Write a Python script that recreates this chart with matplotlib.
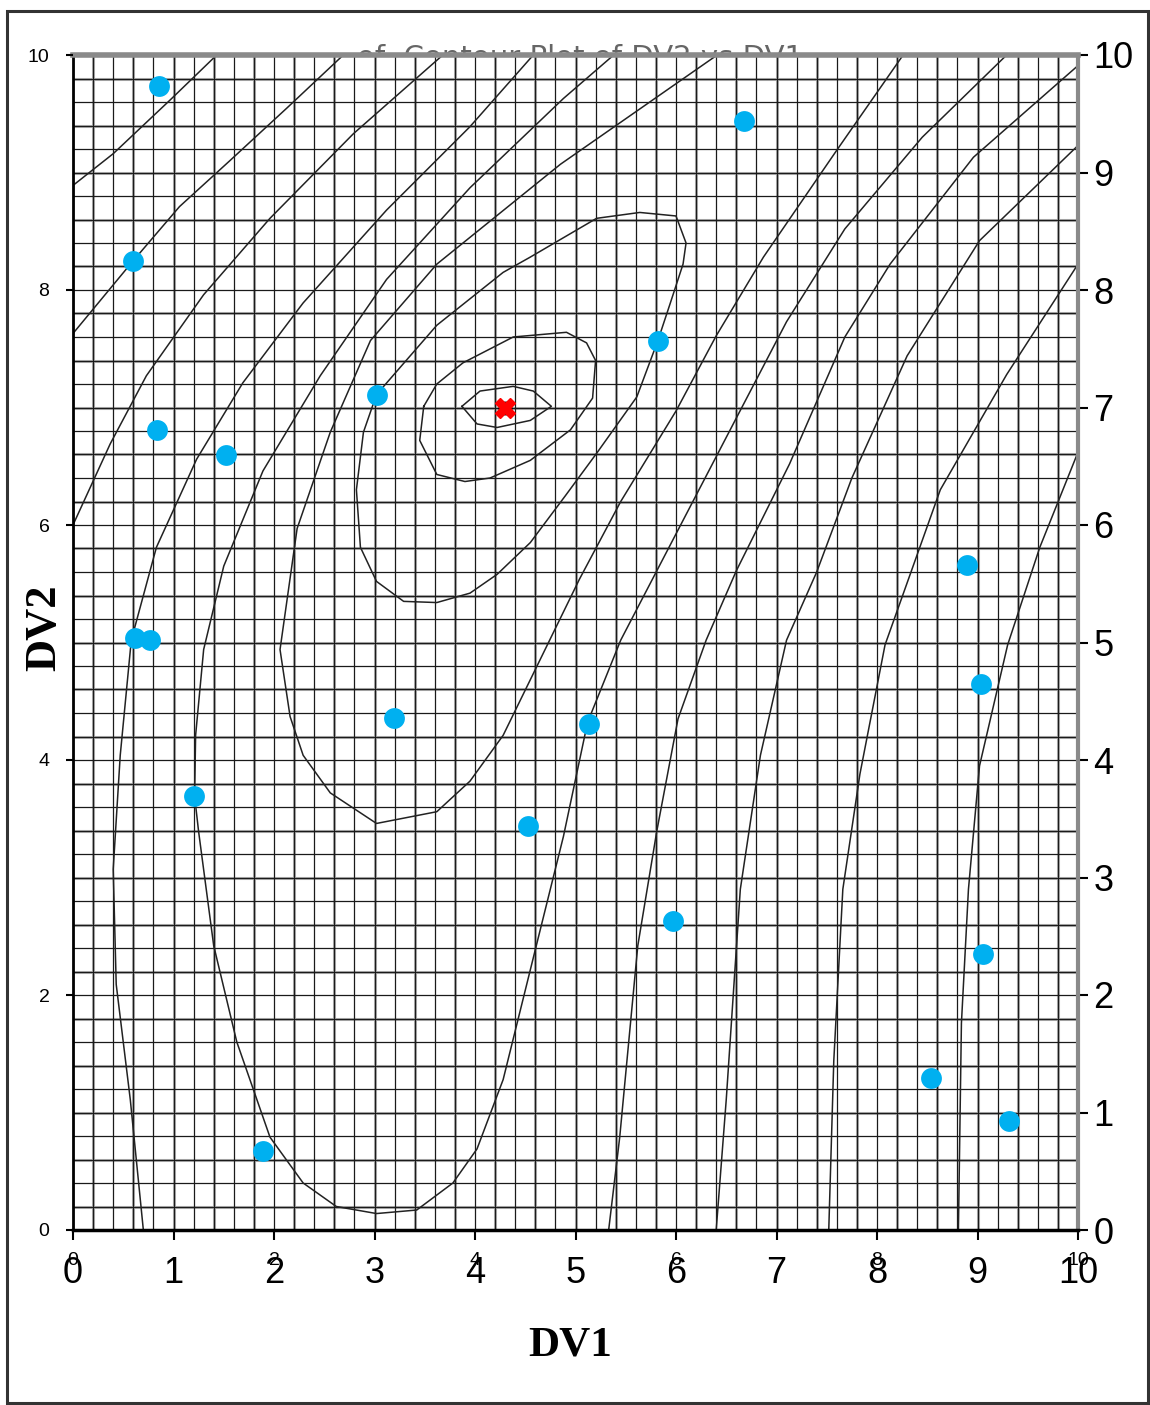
import numpy as np
import matplotlib
matplotlib.use("Agg")
import matplotlib.pyplot as plt
from matplotlib.patches import Rectangle

# sampled design points (DV1, DV2)
pts_dv1 = [0.86, 6.68, 0.60, 5.82, 3.02, 0.84, 1.52, 8.90, 0.62, 0.77,
           9.03, 3.19, 5.13, 1.20, 4.53, 5.97, 9.05, 8.54, 9.31, 1.89]
pts_dv2 = [9.74, 9.44, 8.25, 7.57, 7.11, 6.81, 6.60, 5.66, 5.04, 5.02,
           4.65, 4.36, 4.31, 3.69, 3.44, 2.63, 2.35, 1.29, 0.93, 0.67]

# optimum
opt_dv1 = [4.30]
opt_dv2 = [7.00]

# contour lines, (DV1, DV2)
eye = [(3.87, 7.01), (4.05, 7.14), (4.38, 7.18), (4.58, 7.14), (4.76, 7.01),
       (4.55, 6.89), (4.22, 6.83), (4.02, 6.86), (3.87, 7.01)]
inner = [(3.49, 7.01), (3.62, 7.20), (3.88, 7.38), (4.38, 7.60), (4.91, 7.64),
         (5.11, 7.55), (5.20, 7.40), (5.17, 7.08), (4.95, 6.81), (4.55, 6.55),
         (4.15, 6.40), (3.90, 6.37), (3.62, 6.43), (3.45, 6.72), (3.49, 7.01)]
middle = [(3.02, 7.11), (3.62, 7.70), (4.28, 8.15), (4.55, 8.28), (5.21, 8.61),
          (5.64, 8.66), (6.00, 8.63), (6.10, 8.40), (6.07, 8.22), (5.94, 7.88),
          (5.82, 7.57), (5.61, 7.09), (5.21, 6.61), (4.90, 6.25), (4.55, 5.85),
          (4.22, 5.58), (3.95, 5.42), (3.62, 5.34), (3.29, 5.35), (3.02, 5.52),
          (2.86, 5.81), (2.82, 6.30), (2.89, 6.79), (3.02, 7.11)]
u_small = [(6.41, 10.0), (4.85, 9.07), (3.62, 8.22), (2.96, 7.57), (2.56, 6.79),
           (2.23, 5.97), (2.06, 4.94), (2.16, 4.37), (2.29, 4.04), (2.56, 3.72),
           (3.02, 3.46), (3.62, 3.56), (3.95, 3.82), (4.28, 4.21), (4.60, 4.77),
           (5.04, 5.54), (5.45, 6.20), (6.00, 6.97), (6.40, 7.61), (6.87, 8.28),
           (7.60, 9.19), (8.26, 10.0)]
u_big = [(5.38, 10.0), (4.88, 9.63), (3.95, 8.87), (3.12, 8.09), (2.46, 7.27),
         (1.89, 6.46), (1.50, 5.65), (1.30, 4.94), (1.22, 4.21), (1.21, 3.69),
         (1.25, 3.39), (1.40, 2.42), (1.63, 1.60), (1.96, 0.79), (2.29, 0.40),
         (2.62, 0.20), (3.02, 0.14), (3.42, 0.17), (3.78, 0.40), (4.02, 0.69),
         (4.28, 1.28), (4.61, 2.42), (4.88, 3.35), (5.12, 4.32), (5.45, 5.02),
         (5.90, 5.76), (6.60, 6.91), (7.10, 7.73), (7.68, 8.52), (8.45, 9.30),
         (9.29, 10.0)]
left_6 = [(0.70, 0.0), (0.57, 1.11), (0.43, 2.09), (0.40, 3.07), (0.47, 4.04),
          (0.58, 5.02), (0.83, 5.81), (1.23, 6.56), (1.69, 7.21), (2.29, 7.89),
          (3.12, 8.68), (3.95, 9.39), (4.58, 10.0)]
left_7 = [(0.0, 6.0), (0.37, 6.69), (0.73, 7.27), (1.30, 7.96), (1.96, 8.61),
          (2.79, 9.33), (3.68, 10.0)]
left_8 = [(0.0, 7.63), (0.60, 8.25), (1.06, 8.71), (1.56, 9.10), (2.13, 9.55),
          (2.69, 10.0)]
left_9 = [(0.0, 8.89), (0.40, 9.16), (0.97, 9.62), (1.43, 10.0)]
right_6 = [(5.33, 0.0), (5.44, 0.79), (5.62, 2.42), (5.81, 3.40), (6.02, 4.35),
           (6.30, 5.02), (6.60, 5.61), (7.13, 6.52), (7.68, 7.60), (8.13, 8.22),
           (8.96, 9.13), (10.0, 9.91)]
right_7 = [(6.40, 0.0), (6.50, 1.11), (6.64, 2.90), (6.84, 4.04), (7.10, 5.02),
           (7.40, 5.60), (7.75, 6.40), (8.30, 7.44), (9.02, 8.42), (10.0, 9.23)]
right_8 = [(7.52, 0.0), (7.57, 1.44), (7.66, 2.90), (7.83, 3.88), (8.08, 4.98),
           (8.63, 6.30), (9.29, 7.28), (10.0, 8.22)]
right_9 = [(8.81, 0.0), (8.84, 1.76), (8.91, 2.90), (9.02, 3.95), (9.30, 4.98),
           (9.62, 5.81), (10.0, 6.62)]

contours = [eye, inner, middle, u_small, u_big, left_6, left_7, left_8, left_9,
            right_6, right_7, right_8, right_9]

big_ticks = list(range(0, 11))
small_ticks = [0, 2, 4, 6, 8, 10]

narrow = ["Liberation Sans Narrow", "Liberation Sans", "DejaVu Sans"]
serif = ["Liberation Serif", "DejaVu Serif"]

fig = plt.figure(figsize=(11.5, 14.05), dpi=100)
rect = [73 / 1150, 175 / 1405, 1005 / 1150, 1175 / 1405]
ax = fig.add_axes(rect)
ax.set_xlim(0, 10)
ax.set_ylim(0, 10)

# graph-paper grid, every 0.2
for k, v in enumerate(np.arange(0, 10.001, 0.2)):
    if k % 2:
        ax.axvline(v, color="#b4b4b4", lw=2.2, zorder=0.5)
        ax.axhline(v, color="#b4b4b4", lw=2.2, zorder=0.5)
    ax.axvline(v, color="#1a1a1a", lw=0.9, zorder=0.6)
    ax.axhline(v, color="#1a1a1a", lw=0.9, zorder=0.6)

for c in contours:
    xs, ys = zip(*c)
    ax.plot(xs, ys, color="#222222", lw=1.1, zorder=2)

ax.plot(pts_dv1, pts_dv2, "o", color="#00b0f0", ms=15, mec="none", zorder=5)
ax.plot(opt_dv1, opt_dv2, "o", color="black", ms=9, zorder=6)
ax.plot(opt_dv1, opt_dv2, "X", color="#ff0000", ms=14, mec="#ff0000", zorder=7)

# big ticks: bottom and right
ax.set_xticks(big_ticks)
ax.set_yticks(big_ticks)
ax.yaxis.tick_right()
ax.tick_params(axis="x", direction="out", length=7, width=1.5, pad=12,
               labelsize=26, colors="black")
ax.tick_params(axis="y", direction="out", length=7, width=1.5, pad=4,
               labelsize=26, colors="black")
for lab in ax.get_xticklabels() + ax.get_yticklabels():
    lab.set_family(narrow)

ax.spines["left"].set_linewidth(2)
ax.spines["bottom"].set_linewidth(2.5)
ax.spines["top"].set_color("#8a8a8a")
ax.spines["top"].set_linewidth(4)
ax.spines["right"].set_color("#8a8a8a")
ax.spines["right"].set_linewidth(3)

# small ticks: left and bottom, drawn over the big bottom ones
axs = fig.add_axes(rect, frameon=False)
axs.set_xlim(0, 10)
axs.set_ylim(0, 10)
axs.set_xticks(small_ticks)
axs.set_yticks(small_ticks)
axs.tick_params(axis="x", length=0, pad=16, labelsize=14)
axs.tick_params(axis="y", direction="out", length=5, width=1.5, pad=12,
                labelsize=14)
for lab in axs.get_xticklabels() + axs.get_yticklabels():
    lab.set_family(narrow)
axs.patch.set_visible(False)

fig.text(570 / 1150, 1 - 1345 / 1405, "DV1", ha="center", va="center",
         fontsize=31, fontweight="bold", family=serif)
fig.text(44 / 1150, 1 - 628 / 1405, "DV2", ha="center", va="center",
         rotation=90, fontsize=32, fontweight="bold", family=serif)

# title mostly hidden behind the plot area
fig.text(580 / 1150, 1 - 58 / 1405, "of  Contour Plot of DV2 vs DV1",
         ha="center", va="center", fontsize=21, color="#666666", zorder=-1)

fig.patches.append(Rectangle((7 / 1150, 2 / 1405), 1141 / 1150, 1392 / 1405,
                             transform=fig.transFigure, fill=False,
                             lw=2.2, ec="#333333"))

fig.savefig("out.png", dpi=100)
